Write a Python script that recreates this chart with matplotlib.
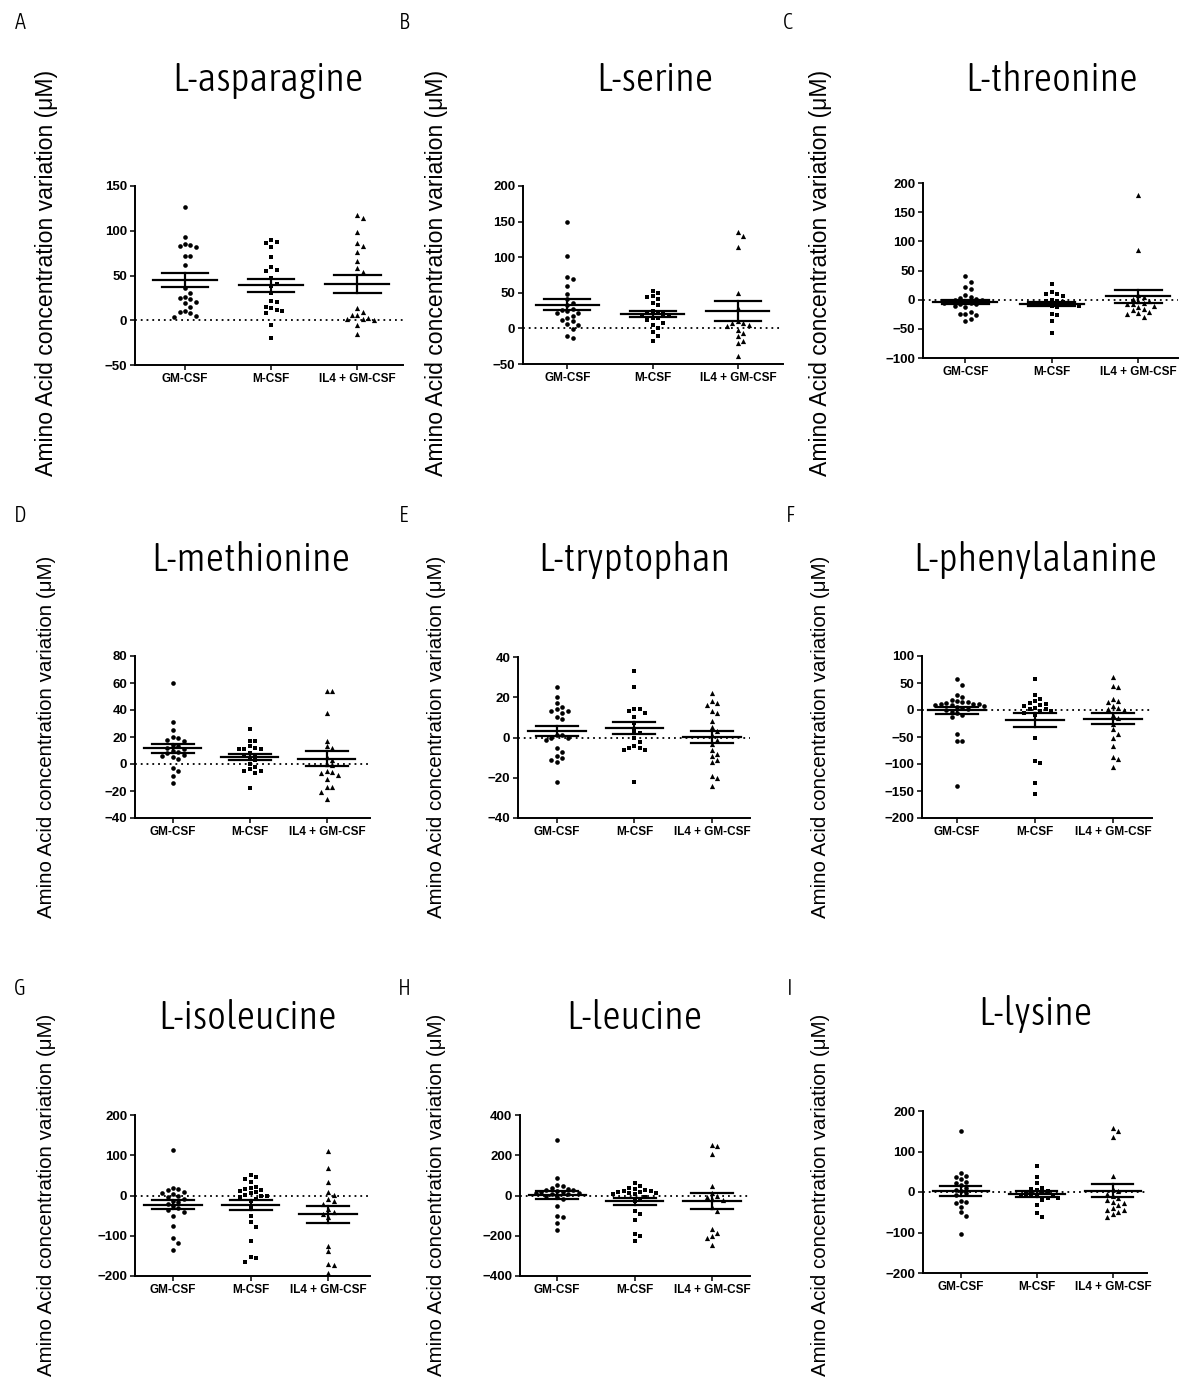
import matplotlib
matplotlib.use("Agg")
import matplotlib.pyplot as plt
from matplotlib import font_manager as fm
import numpy as np

W, H = 1183, 1381
groups = ["GM-CSF", "M-CSF", "IL4 + GM-CSF"]

# concentration variation (uM) per donor, one list per amino acid and condition
asparagine_gm = [126, 93, 85, 84, 83, 82, 72, 72, 62, 36, 31, 26, 25, 24, 20, 19, 15, 10, 9, 8, 5, 4]
asparagine_m = [90, 87, 86, 82, 71, 59, 56, 55, 47, 41, 38, 31, 21, 20, 15, 14, 12, 10, 8, -5, -20]
asparagine_il4 = [118, 114, 99, 86, 83, 76, 66, 58, 54, 14, 9, 6, 6, 3, 1, 1, 0, -5, -15]

serine_gm = [149, 101, 72, 69, 60, 49, 41, 35, 33, 27, 26, 24, 22, 21, 18, 15, 12, 10, 6, 5, -1, -11, -14]
serine_m = [53, 50, 45, 44, 41, 36, 33, 24, 22, 21, 20, 18, 17, 15, 14, 12, 8, 5, 0, -5, -11, -17]
serine_il4 = [135, 130, 115, 50, 28, 10, 8, 7, 5, 3, -2, -7, -11, -17, -21, -39]

threonine_gm = [40, 31, 21, 18, 8, 5, 3, 2, 0, -1, -2, -3, -4, -5, -6, -7, -8, -10, -12, -21, -24, -25, -26, -33, -37]
threonine_m = [27, 14, 10, 9, 7, 0, -2, -3, -4, -5, -6, -7, -8, -9, -10, -11, -12, -24, -26, -37, -57]
threonine_il4 = [180, 85, 8, 5, 2, -2, -3, -5, -7, -8, -10, -13, -16, -18, -21, -23, -25, -30]

methionine_gm = [60, 31, 25, 20, 19, 18, 17, 14, 13, 12, 11, 10, 9, 8, 7, 6, 5, 4, -3, -5, -9, -14]
methionine_m = [26, 17, 17, 13, 12, 11, 11, 11, 8, 7, 6, 4, 3, 0, -2, -4, -5, -5, -7, -18]
methionine_il4 = [54, 54, 38, 17, 13, 12, 5, 3, 0, -1, -5, -6, -7, -8, -11, -17, -17, -21, -26]

tryptophan_gm = [25, 20, 17, 15, 14, 13, 13, 12, 10, 9, 1, 1, 0, 0, -1, -5, -7, -9, -10, -11, -12, -22]
tryptophan_m = [33, 25, 14, 14, 13, 12, 10, 7, 3, 2, 0, -2, -4, -5, -5, -6, -6, -22]
tryptophan_il4 = [22, 18, 17, 16, 13, 12, 8, 5, 3, 1, -1, -3, -6, -8, -9, -11, -12, -19, -20, -24]

phenylalanine_gm = [57, 47, 28, 24, 19, 16, 15, 14, 13, 12, 12, 11, 10, 9, 8, 6, 4, 2, 0, -3, -5, -9, -13, -44, -57, -58, -141]
phenylalanine_m = [57, 28, 20, 17, 13, 11, 10, 7, 4, 2, 1, -1, -2, -5, -9, -51, -95, -98, -136, -155]
phenylalanine_il4 = [62, 45, 42, 20, 16, 14, 7, 4, 2, 0, -9, -15, -25, -36, -44, -51, -66, -87, -91, -105]

isoleucine_gm = [114, 19, 17, 13, 8, 6, 4, 0, -4, -8, -13, -17, -22, -27, -31, -37, -40, -52, -77, -106, -119, -136]
isoleucine_m = [50, 46, 40, 33, 22, 19, 17, 13, 10, 8, 5, 2, 0, -2, -4, -8, -13, -29, -50, -67, -79, -114, -152, -156, -165]
isoleucine_il4 = [110, 68, 33, 8, 2, -8, -13, -21, -33, -42, -46, -54, -125, -139, -169, -172, -193]

leucine_gm = [275, 88, 50, 45, 35, 33, 28, 25, 20, 17, 15, 12, 10, 8, 5, 0, -8, -17, -50, -100, -108, -138, -172]
leucine_m = [62, 45, 38, 33, 28, 22, 20, 17, 15, 12, 10, 8, 5, -5, -17, -25, -75, -92, -122, -192, -200, -225]
leucine_il4 = [250, 245, 205, 45, 12, 0, -8, -15, -22, -58, -78, -167, -188, -200, -212, -247]

lysine_gm = [151, 47, 39, 36, 31, 25, 22, 17, 11, 6, 3, -3, -8, -21, -25, -27, -36, -50, -60, -103]
lysine_m = [64, 37, 21, 11, 8, 4, 2, -3, -5, -6, -8, -10, -11, -14, -15, -19, -31, -52, -62]
lysine_il4 = [157, 150, 135, 39, 8, 3, -5, -10, -15, -19, -25, -27, -33, -39, -45, -45, -50, -54, -62]

titles = ["L-asparagine", "L-serine", "L-threonine", "L-methionine", "L-tryptophan",
          "L-phenylalanine", "L-isoleucine", "L-leucine", "L-lysine"]
letters = ["A", "B", "C", "D", "E", "F", "G", "H", "I"]
series = [
    (asparagine_gm, asparagine_m, asparagine_il4),
    (serine_gm, serine_m, serine_il4),
    (threonine_gm, threonine_m, threonine_il4),
    (methionine_gm, methionine_m, methionine_il4),
    (tryptophan_gm, tryptophan_m, tryptophan_il4),
    (phenylalanine_gm, phenylalanine_m, phenylalanine_il4),
    (isoleucine_gm, isoleucine_m, isoleucine_il4),
    (leucine_gm, leucine_m, leucine_il4),
    (lysine_gm, lysine_m, lysine_il4),
]
y_ranges = [(-50, 150, 50), (-50, 200, 50), (-100, 200, 50),
            (-40, 80, 20), (-40, 40, 20), (-200, 100, 50),
            (-200, 200, 100), (-400, 400, 200), (-200, 200, 100)]

# axes boxes in pixels: left, top, right, bottom, xmin, xmax
boxes = [
    (135, 186, 403, 365, -0.58, 2.53),
    (523, 186, 783, 364, -0.52, 2.53),
    (923, 183, 1178, 358, -0.49, 2.46),
    (135, 656, 370, 818, -0.49, 2.56),
    (518, 657, 750, 818, -0.50, 2.49),
    (922, 656, 1152, 818, -0.45, 2.50),
    (135, 1115, 370, 1276, -0.49, 2.54),
    (520, 1115, 750, 1276, -0.48, 2.49),
    (923, 1111, 1147, 1273, -0.50, 2.45),
]
title_pos = [(268, 80), (655, 80), (1052, 80),
             (251, 560), (634, 560), (1035, 560),
             (248, 1018), (634, 1018), (1035, 1014)]
letter_pos = [(20, 23), (404, 23), (788, 23),
              (20, 516), (404, 516), (790, 516),
              (20, 989), (404, 989), (790, 989)]
label_x = [47, 437, 820]
label_y = [273, 737, 1195]
label_size = [16.6, 14.8, 14.8]

markers = ["o", "s", "^"]
sizes = [11, 12, 14]

plt.rcParams["font.family"] = ["Liberation Sans", "DejaVu Sans"]

# pick the lightest condensed face for the headings if one is installed
cands = [f for f in fm.fontManager.ttflist
         if ("Narrow" in f.name or "Condensed" in f.name) and "italic" not in str(f.style)]


def _weight(f):
    w = f.weight
    if isinstance(w, str):
        w = fm.weight_dict.get(w, 400)
    return w


if cands:
    best = min(cands, key=lambda f: (abs(_weight(f) - 300), "Narrow" not in f.name))
    head_kw = dict(family=[best.name, "DejaVu Sans"], fontweight=_weight(best))
    title_size = 29
else:
    head_kw = dict(family=["Liberation Sans"])
    title_size = 24


def swarm(vals, ypx, d=5.4):
    # simple beeswarm: spread points that sit at similar heights
    vals = np.asarray(vals, float)
    order = np.argsort(-vals)
    placed = []
    offs = np.zeros(len(vals))
    for i in order:
        y = vals[i] * ypx
        for k in range(60):
            c = 0.0 if k == 0 else ((k + 1) // 2) * d * (1 if k % 2 else -1)
            if all((c - px) ** 2 + (y - py) ** 2 >= d * d for px, py in placed):
                break
        placed.append((c, y))
        offs[i] = c
    return offs


fig = plt.figure(figsize=(W / 100, H / 100), dpi=100)

for p in range(9):
    l, t, r, b, x0, x1 = boxes[p]
    ax = fig.add_axes([l / W, 1 - b / H, (r - l) / W, (b - t) / H])
    lo, hi, step = y_ranges[p]
    ax.set_xlim(x0, x1)
    ax.set_ylim(lo, hi)
    ypx = (b - t) / (hi - lo)
    xpx = (r - l) / (x1 - x0)

    ax.axhline(0, color="black", ls=(0, (1, 2.2)), lw=1.3, zorder=1)
    for g, vals in enumerate(series[p]):
        v = np.asarray(vals, float)
        xs = g + swarm(v, ypx) / xpx
        ax.scatter(xs, v, marker=markers[g], s=sizes[g], color="black",
                   linewidths=0, zorder=3)
        m = v.mean()
        sem = v.std(ddof=1) / np.sqrt(len(v))
        ax.plot([g - 0.37, g + 0.37], [m, m], color="black", lw=1.6, zorder=4)
        ax.plot([g - 0.27, g + 0.27], [m + sem, m + sem], color="black", lw=1.6, zorder=4)
        ax.plot([g - 0.27, g + 0.27], [m - sem, m - sem], color="black", lw=1.6, zorder=4)
        ax.plot([g, g], [m - sem, m + sem], color="black", lw=1.6, zorder=4)

    ax.set_yticks(np.arange(lo, hi + step / 2, step))
    ax.set_xticks([0, 1, 2])
    ax.set_xticklabels(groups, fontweight="bold", fontsize=8.5)
    for lab in ax.get_yticklabels():
        lab.set_fontweight("bold")
        lab.set_fontsize(9.5)
    ax.tick_params(axis="both", direction="out", length=3.5, width=1.1, pad=2)
    for s in ["top", "right"]:
        ax.spines[s].set_visible(False)
    for s in ["left", "bottom"]:
        ax.spines[s].set_linewidth(1.4)

    tx, ty = title_pos[p]
    fig.text(tx / W, 1 - ty / H, titles[p], ha="center", va="center",
             fontsize=title_size, **head_kw)
    lx, ly = letter_pos[p]
    fig.text(lx / W, 1 - ly / H, letters[p], ha="center", va="center",
             fontsize=16, **head_kw)
    row = p // 3
    fig.text(label_x[p % 3] / W, 1 - label_y[row] / H,
             "Amino Acid concentration variation (μM)", rotation=90,
             ha="center", va="center", fontsize=label_size[row])

fig.savefig("out.png", dpi=100)
